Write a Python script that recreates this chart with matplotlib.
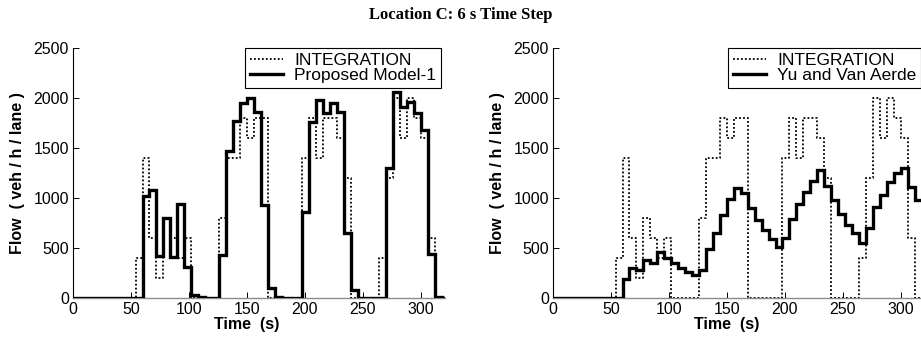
import numpy as np
import matplotlib
matplotlib.use('Agg')
import matplotlib.pyplot as plt

# 6 s bins, start time of each bin (s)
t_start = np.arange(0, 324, 6)

# INTEGRATION flow per bin (veh/h/lane)
integration = [0, 0, 0, 0, 0, 0, 0, 0, 0,
               400, 1400, 600, 200, 800, 600, 400, 600,
               0, 0, 0, 0,
               800, 1400, 1400, 1800, 1600, 1800, 1800,
               0, 0, 0, 0, 0,
               1400, 1800, 1400, 1800, 1800, 1600, 1200,
               0, 0, 0, 0,
               400, 1200, 2000, 1600, 2000, 1800, 1600, 600,
               0, 0]

# Proposed Model-1
model_1 = [0, 0, 0, 0, 0, 0, 0, 0, 0, 0,
           1020, 1080, 420, 800, 410, 940, 310,
           30, 15, 0, 0,
           430, 1470, 1770, 1950, 2000, 1860, 930, 100, 10,
           0, 0, 0,
           860, 1760, 1980, 1850, 1950, 1860, 650, 80,
           0, 0, 0, 0,
           1300, 2060, 1910, 1960, 1850, 1680, 440, 15, 0]

# Yu and Van Aerde
yu_van_aerde = [0, 0, 0, 0, 0, 0, 0, 0, 0, 0,
                190, 300, 285, 380, 350, 465, 405, 350, 305, 265,
                230, 280, 490, 655, 830, 990, 1105, 1050, 905, 780,
                680, 590, 510, 600, 795, 945, 1060, 1170, 1280, 1125,
                980, 840, 730, 647, 550, 700, 910, 1030, 1160, 1250,
                1300, 1115, 980, 980]

x_ticks = [0, 50, 100, 150, 200, 250, 300]
y_ticks = [0, 500, 1000, 1500, 2000, 2500]

sans = ['Liberation Sans', 'DejaVu Sans']
plt.rcParams['font.family'] = sans

W, H = 921, 339
fig = plt.figure(figsize=(W / 100, H / 100), dpi=100)

def px_axes(x0, y0, x1, y1):
    return fig.add_axes([x0 / W, 1 - y1 / H, (x1 - x0) / W, (y1 - y0) / H])

ax1 = px_axes(73, 48, 445, 298)
ax2 = px_axes(553, 48, 925, 298)

def step_xy(vals):
    v = np.asarray(vals, dtype=float)
    x = np.append(t_start, t_start[-1] + 6)
    y = np.append(v, v[-1])
    return x, y

panels = [(ax1, model_1, 'Proposed Model-1'), (ax2, yu_van_aerde, 'Yu and Van Aerde')]
for ax, series, name in panels:
    xi, yi = step_xy(integration)
    xs, ys = step_xy(series)
    ax.step(xi, yi, where='post', color='black', lw=1.3, ls=(0, (1, 1.2)),
            label='INTEGRATION', zorder=3)
    ax.step(xs, ys, where='post', color='black', lw=2.4, label=name, zorder=4,
            solid_joinstyle='miter')
    ax.set_xlim(0, 321)
    ax.set_ylim(0, 2500)
    ax.set_xticks(x_ticks)
    ax.set_yticks(y_ticks)
    ax.tick_params(direction='in', length=4, width=0.7, labelsize=11.5, pad=3)
    for s in ['top', 'right']:
        ax.spines[s].set_visible(False)
    ax.spines['left'].set_linewidth(0.8)
    ax.spines['bottom'].set_linewidth(1.0)
    ax.spines['bottom'].set_color('0.55')
    ax.set_xlabel('Time  (s)', fontsize=11.5, fontweight='bold')
    ax.set_ylabel('Flow  ( veh / h / lane )', fontsize=11.5, fontweight='bold')
    ax.xaxis.set_label_coords(0.468, -0.078)
    ax.yaxis.set_label_coords(-0.13, 0.5)
    leg = ax.legend(loc='upper right', bbox_to_anchor=(1 - 4 / 372, 1.0),
                    borderaxespad=0, fancybox=False, framealpha=1,
                    edgecolor='black', fontsize=12.5, handlelength=1.9,
                    handletextpad=0.65, borderpad=0.28, labelspacing=0.0)
    leg.get_frame().set_linewidth(0.8)

fig.text(461 / W, 1 - 15 / H, 'Location C: 6 s Time Step', ha='center', va='center',
         fontsize=12, fontweight='bold', family=['Liberation Serif', 'DejaVu Serif'])

fig.savefig('out.png', dpi=100)
